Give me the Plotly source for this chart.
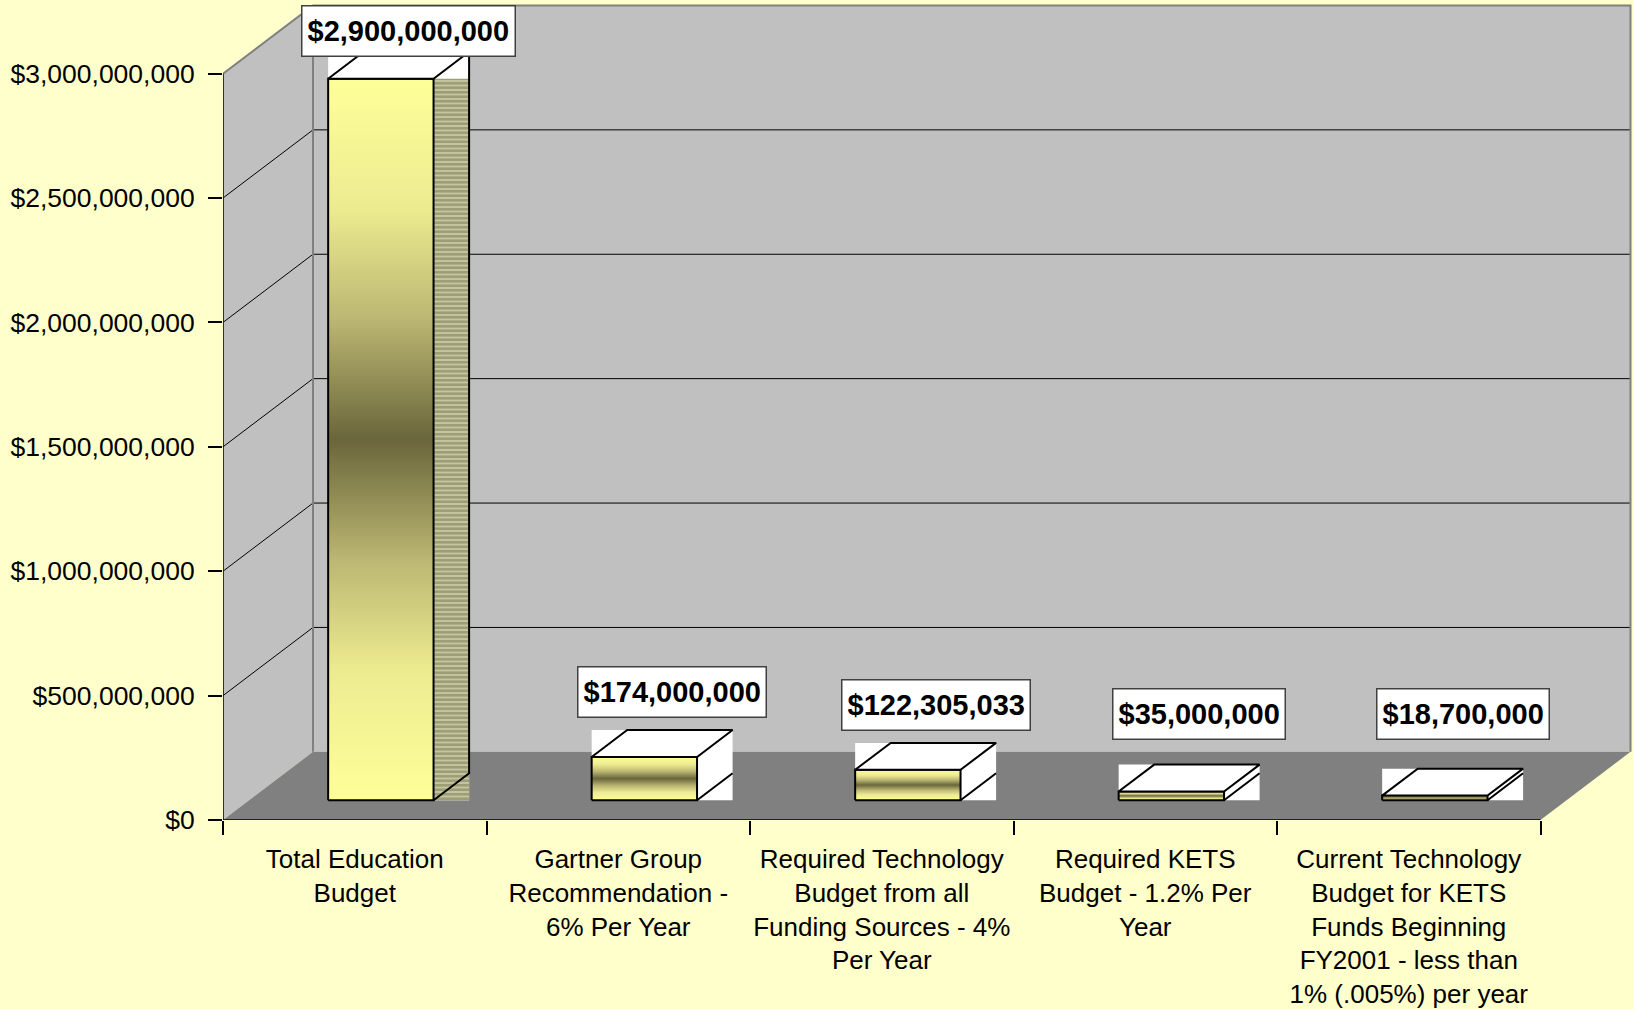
import numpy as np
import plotly.graph_objects as go

# ---- data -------------------------------------------------------------
categories = [
    "Total Education<br>Budget",
    "Gartner Group<br>Recommendation -<br>6% Per Year",
    "Required Technology<br>Budget from all<br>Funding Sources - 4%<br>Per Year",
    "Required KETS<br>Budget - 1.2% Per<br>Year",
    "Current Technology<br>Budget for KETS<br>Funds Beginning<br>FY2001 - less than<br>1% (.005%) per year",
]
budget = [2_900_000_000, 174_000_000, 122_305_033, 35_000_000, 18_700_000]
y_ticks = [0, 500_000_000, 1_000_000_000, 1_500_000_000,
           2_000_000_000, 2_500_000_000, 3_000_000_000]
y_tick_labels = ["$0", "$500,000,000", "$1,000,000,000", "$1,500,000,000",
                 "$2,000,000,000", "$2,500,000,000", "$3,000,000,000"]

# ---- page / projection geometry ----------------------------------------
W, H = 1634, 1009
M_L, M_B = 223, 185
PLOT_W, PLOT_H = W - M_L, H - M_B
PX_PER_CAT = 263.5            # pixels per category slot
PX_PER_USD = 250 / 1e9        # pixels per dollar
DEPTH_PX = (90.0, 68.5)       # oblique offset of the back wall (right, up)
DX = DEPTH_PX[0] / PX_PER_CAT
DY = DEPTH_PX[1] / PX_PER_USD
X_MAX = PLOT_W / PX_PER_CAT
Y_MAX = PLOT_H / PX_PER_USD

N = len(budget)
V_TOP = y_ticks[-1]
BAR_W = 0.4
GAP = (1 - BAR_W) / 2
F0, F1 = 0.29, 0.685          # bar front / back depth fractions

FONT = "Arial, Liberation Sans, sans-serif"
BG = "#FFFFCC"
WALL = "#C0C0C0"
FLOOR = "#808080"
EDGE = "#808080"

FRONT_SCALE = [[0.0, "#FFFF99"], [0.18, "#EDEB90"], [0.33, "#BDB873"],
               [0.5, "#6A663B"], [0.67, "#BDB873"], [0.82, "#EDEB90"],
               [1.0, "#FFFF99"]]


def proj(c, v, f):
    """Project a (category, value) point at depth fraction f onto the page."""
    return c + f * DX, v + f * DY


def polygon(pts, **kw):
    xs = [p[0] for p in pts] + [pts[0][0]]
    ys = [p[1] for p in pts] + [pts[0][1]]
    return go.Scatter(x=xs, y=ys, mode="lines", fill="toself",
                      hoverinfo="skip", showlegend=False, **kw)


def path(pts, color, width, **kw):
    xs, ys = [], []
    for seg in pts:
        xs += [p[0] for p in seg] + [None]
        ys += [p[1] for p in seg] + [None]
    return go.Scatter(x=xs, y=ys, mode="lines", hoverinfo="skip",
                      showlegend=False, line=dict(color=color, width=width), **kw)


fig = go.Figure()

# ---- walls and floor ----------------------------------------------------
fig.add_trace(polygon([(0, 0), (0, V_TOP), proj(0, V_TOP, 1), proj(0, 0, 1)],
                      fillcolor=WALL, line=dict(width=0)))
fig.add_trace(polygon([proj(0, 0, 1), proj(0, V_TOP, 1), proj(N, V_TOP, 1), proj(N, 0, 1)],
                      fillcolor=WALL, line=dict(width=0)))
fig.add_trace(polygon([(0, 0), proj(0, 0, 1), proj(N, 0, 1), (N, 0)],
                      fillcolor=FLOOR, line=dict(width=0)))

# gridlines across side wall and back wall
grid = [[(0, v), proj(0, v, 1), proj(N, v, 1)] for v in y_ticks[1:-1]]
fig.add_trace(path(grid, "black", 1))
# wall edges
edges = [[(0, V_TOP), proj(0, V_TOP, 1), proj(N, V_TOP, 1), proj(N, 0, 1)],
         [proj(0, 0, 1), proj(0, V_TOP, 1)]]
fig.add_trace(path(edges, EDGE, 2))

# axis lines
fig.add_trace(path([[(0, 0), (0, V_TOP)]], "black", 1.5))
fig.add_trace(path([[(0, 0), (N, 0)]], "black", 1.5, xaxis="x2"))

# ---- bars ---------------------------------------------------------------
bdx, bdy = (F1 - F0) * DX, (F1 - F0) * DY
annotations = []
for i, v in enumerate(budget):
    x0, y0 = proj(i + GAP, 0, F0)
    x1 = x0 + BAR_W
    y1 = v + y0

    # backing box behind the top and side faces
    fig.add_trace(polygon([(x0, y0), (x0, y1 + bdy), (x1 + bdx, y1 + bdy), (x1 + bdx, y0)],
                          fillcolor="white", line=dict(width=0)))
    # side face (hatched on the leading bar)
    if i == 0:
        fig.add_trace(polygon([(x1, y0), (x1, y1), (x1 + bdx, y1), (x1 + bdx, y0)],
                              fillcolor="#DCDCB8", line=dict(width=0),
                              fillpattern=dict(shape="-", fgcolor="#5E5E34",
                                               bgcolor="#DCDCB8", size=4.5,
                                               solidity=0.75)))
        side = [[(x1, y0), (x1 + bdx, y0 + bdy), (x1 + bdx, y1 + bdy)]]
    else:
        side = [[(x1, y0), (x1 + bdx, y0 + bdy)]]
    # front face with a centre-dark gradient
    fig.add_trace(polygon([(x0, y0), (x0, y1), (x1, y1), (x1, y0)],
                          fillgradient=dict(type="vertical", colorscale=FRONT_SCALE),
                          line=dict(color="black", width=2)))
    # top face
    fig.add_trace(polygon([(x0, y1), (x1, y1), (x1 + bdx, y1 + bdy), (x0 + bdx, y1 + bdy)],
                          fillcolor="white", line=dict(color="black", width=2)))
    fig.add_trace(path(side, "black", 2))

    # value label above the bar (kept above the floor edge and inside the top)
    lx = x0 + BAR_W / 2 + bdx / 2
    ly = max(v + F1 * DY, DY)
    if ly + (12 + 53) / PX_PER_USD > Y_MAX:
        ly, anchor, shift = Y_MAX, "top", -5
    else:
        anchor, shift = "bottom", 12
    annotations.append(dict(
        x=lx, y=ly, xref="x", yref="y", xshift=10, yshift=shift,
        yanchor=anchor, xanchor="center", showarrow=False,
        text=f"<b>${v:,.0f}</b>", height=39,
        font=dict(family=FONT, size=29, color="black"),
        bgcolor="white", bordercolor="#404040", borderwidth=1.5, borderpad=5,
    ))

# ---- layout -------------------------------------------------------------
fig.update_layout(
    width=W, height=H,
    margin=dict(l=M_L, r=0, t=0, b=M_B, pad=0),
    paper_bgcolor=BG, plot_bgcolor="rgba(0,0,0,0)",
    showlegend=False,
    font=dict(family=FONT, size=26, color="black"),
    annotations=annotations,
    xaxis=dict(range=[0, X_MAX], showgrid=False, zeroline=False, showline=False,
               tickmode="array", tickvals=[i + 0.5 for i in range(N)],
               ticktext=categories, ticks="", ticklabelstandoff=21,
               tickfont=dict(family=FONT, size=26, color="black"), fixedrange=True),
    xaxis2=dict(range=[0, X_MAX], overlaying="x", anchor="y", side="bottom",
                showgrid=False, zeroline=False, showline=False,
                tickmode="array", tickvals=list(range(N + 1)),
                showticklabels=False, ticks="outside", ticklen=14,
                tickwidth=1.5, tickcolor="black", fixedrange=True),
    yaxis=dict(range=[0, Y_MAX], showgrid=False, zeroline=False, showline=False,
               tickmode="array", tickvals=y_ticks, ticktext=y_tick_labels,
               ticks="outside", ticklen=14, tickwidth=1.5, tickcolor="black",
               ticklabelstandoff=8,
               tickfont=dict(family=FONT, size=26.5, color="black"), fixedrange=True),
)

fig.write_html("out.html")
